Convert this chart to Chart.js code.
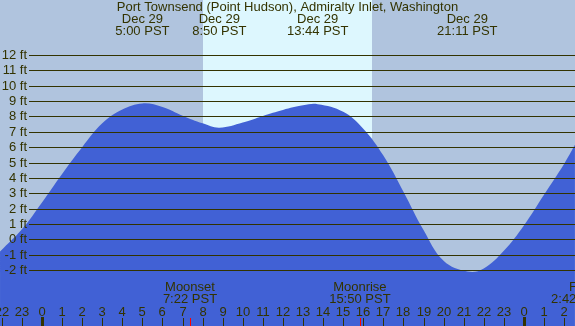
<!DOCTYPE html>
<html>
<head>
<meta charset="utf-8">
<script src="https://cdn.jsdelivr.net/npm/chart.js@4/dist/chart.umd.min.js"></script>
<style>
html,body{margin:0;padding:0;background:#b0c4de;overflow:hidden}
#wrap{width:575px;height:326px;position:relative}
</style>
</head>
<body>
<div id="wrap"><canvas id="c" width="575" height="326"></canvas></div>
<script>
// ---- Data (hours from midnight Dec 29, PST) ----
const title = "Port Townsend (Point Hudson), Admiralty Inlet, Washington";
const tideHours  = [-2.09, -1, 0, 1, 2, 3, 4, 5, 6, 7, 8, 8.83, 10, 11, 12, 13, 13.73, 15, 16, 17, 18, 19, 20, 21.2, 22, 23, 24, 25, 26, 26.54];
const tideFeet   = [-0.8, 0.65, 2.4, 4.25, 6.0, 7.55, 8.45, 8.85, 8.62, 8.05, 7.55, 7.27, 7.6, 8.03, 8.42, 8.72, 8.8, 8.3, 7.2, 5.45, 3.1, 0.6, -1.4, -2.1, -1.9, -0.75, 0.9, 2.9, 4.9, 6.15];
const eventHours = [5.0, 8.83, 13.73, 21.18];
const eventDates = ["Dec 29", "Dec 29", "Dec 29", "Dec 29"];
const eventTimes = ["5:00 PST", "8:50 PST", "13:44 PST", "21:11 PST"];
const sunrise = 8.02, sunset = 16.43;
const moonHours  = [7.37, 15.83, 26.7];
const moonNames  = ["Moonset", "Moonrise", "Full Moon"];
const moonTimes  = ["7:22 PST", "15:50 PST", "2:42 PST"];
const feetTicks  = [12, 11, 10, 9, 8, 7, 6, 5, 4, 3, 2, 1, 0, -1, -2];
const hourTicks  = [-2, -1, 0, 1, 2, 3, 4, 5, 6, 7, 8, 9, 10, 11, 12, 13, 14, 15, 16, 17, 18, 19, 20, 21, 22, 23, 24, 25, 26];

const INK = "#333300";
const FONT = "13px 'Liberation Sans', Arial, sans-serif";

const deco = {
  id: 'deco',
  beforeDatasetsDraw(chart) {
    const {ctx, scales: {x}} = chart;
    ctx.save();
    ctx.fillStyle = "#b0c4de";
    ctx.fillRect(0, 0, chart.width, chart.height);
    ctx.fillStyle = "#ddf7fe";
    const x0 = Math.round(x.getPixelForValue(sunrise)), x1 = Math.round(x.getPixelForValue(sunset));
    ctx.fillRect(x0, 0, x1 - x0, chart.height);
    ctx.restore();
  },
  afterDatasetsDraw(chart) {
    const {ctx, scales: {x, y}} = chart;
    ctx.save();
    ctx.font = FONT;
    ctx.fillStyle = INK;
    ctx.strokeStyle = INK;
    ctx.lineWidth = 1;
    ctx.textBaseline = 'middle';
    ctx.textAlign = 'right';
    feetTicks.forEach(f => {
      const py = Math.round(y.getPixelForValue(f)) + 0.5;
      ctx.beginPath(); ctx.moveTo(29, py); ctx.lineTo(chart.width, py); ctx.stroke();
      ctx.fillText(f + " ft", 27, py);
    });
    ctx.textAlign = 'center';
    ctx.fillText(title, chart.width / 2, 7);
    eventHours.forEach((h, i) => {
      const px = x.getPixelForValue(h);
      ctx.fillText(eventDates[i], px, 19);
      ctx.fillText(eventTimes[i], px, 31);
    });
    moonHours.forEach((h, i) => {
      const px = x.getPixelForValue(h);
      if (i === 2) {
        ctx.textAlign = 'left';
        ctx.fillText(moonNames[i], 569, 287);
        ctx.textAlign = 'center';
      } else {
        ctx.fillText(moonNames[i], px, 287);
      }
      ctx.fillText(moonTimes[i], px, 299);
    });
    hourTicks.forEach(h => {
      const px = Math.round(x.getPixelForValue(h));
      const lbl = String(((h % 24) + 24) % 24);
      ctx.fillStyle = INK;
      ctx.fillText(lbl, px, 312);
      if (h % 24 === 0) {
        ctx.fillRect(px - 1, 317, 3, 9);
      } else {
        ctx.fillRect(px, 318, 1, 8);
      }
    });
    ctx.fillStyle = "#ff0000";
    moonHours.forEach(h => {
      const px = Math.round(x.getPixelForValue(h));
      ctx.fillRect(px, 318, 1, 8);
    });
    ctx.restore();
  }
};

new Chart(document.getElementById('c'), {
  type: 'line',
  data: {
    datasets: [{
      data: tideHours.map((h, i) => ({x: h, y: tideFeet[i]})),
      borderWidth: 0,
      borderColor: 'rgba(0,0,0,0)',
      backgroundColor: '#4161d5',
      fill: 'start',
      pointRadius: 0,
      tension: 0.4
    }]
  },
  options: {
    responsive: false,
    animation: false,
    layout: {padding: 0},
    plugins: {legend: {display: false}, tooltip: {enabled: false}},
    scales: {
      x: {type: 'linear', display: false, min: -2.0916, max: 26.544},
      y: {type: 'linear', display: false, min: -5.6465, max: 15.5814}
    }
  },
  plugins: [deco]
});
</script>
</body>
</html>
